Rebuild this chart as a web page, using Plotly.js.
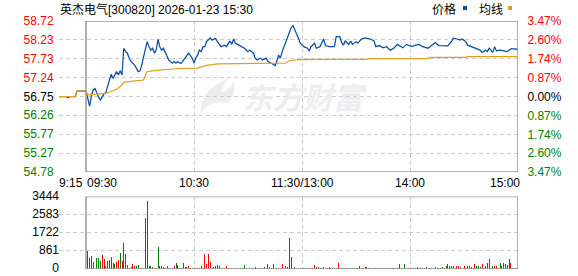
<!DOCTYPE html>
<html><head><meta charset="utf-8">
<script src="https://cdn.plot.ly/plotly-3.0.1.min.js"></script>
<style>html,body{margin:0;padding:0;background:#fff;overflow:hidden}#chart{width:578px;height:276px}</style>
</head><body><div id="chart"></div>
<script>
// ---------------- data ----------------
const stockName = '英杰电气';
const stockCode = '300820';
const stamp = '2026-01-23 15:30';
const prevClose = 56.75;
const priceTicks = [54.78, 55.27, 55.77, 56.26, 56.75, 57.24, 57.73, 58.23, 58.72];
const pctTicks = [-3.47, -2.60, -1.74, -0.87, 0.00, 0.87, 1.74, 2.60, 3.47];
const volTicks = [0, 861, 1722, 2583, 3444];
const volTickText = ['0', '861', '1722', '2583', '3444'];
const timeLabels = ['9:15', '09:30', '10:30', '11:30/13:00', '14:00', '15:00'];
const timeLabelMinutes = [-15, 0, 60, 120, 180, 240];   // minutes from 09:30 (13:00 joins 11:30)
const legendNames = ['价格', '均线'];
const watermark = '东方财富';

// minute-line price (minutes from 09:30, afternoon continues after 11:30)
const priceMinutes = [-15,-11,-10,-9,-6,-5,0,
 1,2,3,4,5,6,7,8,9,10,11,12,13,14,15,16,17,18,19,20,
 21,22,23,24,25,26,27,28,29,30,31,32,33,34,35,36,37,38,39,40,
 41,42,43,44,45,46,47,48,49,50,51,52,53,55,56,57,59,60,61,62,
 63,64,65,66,67,68,69,70,72,73,75,77,78,80,81,82,83,85,87,88,
 90,91,93,94,95,97,98,100,101,103,104,105,106,107,108,109,110,111,112,113,
 114,115,116,117,118,119,120,121,123,124,125,127,128,130,132,133,135,138,139,141,
 142,143,144,146,147,148,150,151,153,155,158,160,161,163,165,167,169,171,173,174,
 176,178,180,181,183,185,187,189,190,192,194,196,198,199,201,203,204,206,208,209,
 211,212,214,216,217,219,220,222,223,224,226,227,228,230,232,234,236,237,239,240];
const priceValues = [56.75,56.75,56.72,56.75,56.75,56.89,56.89,
 56.66,56.50,56.76,56.92,56.96,56.83,56.74,56.66,56.73,56.82,56.85,57.01,57.18,57.33,57.22,57.31,57.40,57.31,57.42,57.31,
 58.01,57.92,57.88,57.75,57.66,57.62,57.57,57.49,57.40,57.42,57.57,57.79,58.01,58.18,58.05,57.96,58.01,57.88,57.96,58.24,
 58.05,57.96,58.01,57.92,57.83,57.70,57.66,57.62,57.66,57.62,57.66,57.62,57.62,57.75,57.83,57.88,57.75,57.62,57.75,57.83,
 57.96,57.92,58.05,58.05,58.18,58.22,58.28,58.22,58.27,58.18,58.05,58.09,58.05,58.20,58.11,58.25,58.14,58.09,58.05,58.01,
 57.92,57.96,57.88,57.75,57.70,57.75,57.70,57.75,57.66,57.62,57.59,57.55,57.66,57.83,57.75,57.92,58.05,58.18,58.27,58.44,
 58.55,58.60,58.50,58.40,58.27,58.14,58.08,58.05,58.01,57.94,58.05,58.14,58.01,58.05,58.25,58.08,58.05,58.05,58.31,58.31,
 58.16,58.09,58.20,58.11,58.20,58.11,58.18,58.14,58.25,58.28,58.25,58.20,58.05,58.08,58.02,58.05,57.96,58.01,58.11,58.08,
 58.02,58.11,58.08,58.05,58.09,58.11,58.05,58.02,58.01,58.08,58.16,58.08,58.08,58.08,58.07,58.18,58.27,58.25,58.22,58.25,
 58.18,58.09,58.05,58.01,57.99,57.96,57.90,57.96,57.92,58.01,57.90,58.05,57.94,57.96,57.94,57.92,57.99,57.99,57.99,57.96];

// average price line
const avgMinutes = [-15,-6,-5,0,1,8,11,14,17,19,21,26,32,33,34,40,46,52,62,63,67,73,84,111,113,119,135,156,157,190,191,211,212,240];
const avgValues  = [56.75,56.75,56.89,56.89,56.79,56.82,56.83,56.88,56.94,57.01,57.12,57.15,57.18,57.31,57.40,57.44,57.46,57.48,57.49,57.51,57.56,57.60,57.61,57.62,57.69,57.71,57.72,57.72,57.74,57.74,57.77,57.77,57.79,57.79];

// volume: auction at 09:25, then one bar per minute 09:31 .. 15:00
const auctionMinute = -5;
const auctionVolume = 95;
const volumes = [
 842,509,603,333,365,509,509,365,650,460,160,365,412,555,300,222,333,444,777,365,
 1222,698,175,63,111,254,127,160,175,32,32,32,2412,3222,160,160,95,48,48,1031,
 160,160,95,48,127,48,48,48,127,300,206,48,48,300,95,111,127,48,48,48,
 32,48,48,127,48,730,254,730,317,63,111,127,190,127,48,48,48,127,48,79,
 48,48,48,48,48,48,48,190,48,48,48,48,48,111,48,48,48,48,79,48,
 222,111,48,254,48,48,48,48,238,48,127,95,1460,555,317,95,48,32,32,48,
 48,48,48,48,48,48,206,95,79,48,48,95,48,48,95,48,48,48,48,270,
 48,48,32,48,48,63,48,48,48,32,48,127,48,48,79,95,48,48,48,48,
 48,48,48,32,48,48,63,48,48,48,48,32,48,222,48,48,222,48,48,48,
 48,48,48,79,48,48,32,48,79,48,48,48,48,111,48,48,32,95,48,142,
 222,127,127,127,48,160,127,111,48,127,63,127,127,79,48,222,127,160,95,254,
 48,160,286,460,48,127,127,127,48,270,127,270,222,206,460,270,48,48,48,412];
const volDirs =
 'ggrgrgggrrrrrrggrrgr' +
 'rgggg' + 'rrggrrrrrrgg' + 'rrg' +
 'gggrgggg' + 'rgrrggrrrgggg' +
 'grrrrrrrrgrrgrggrrgr' +
 'grrgggggrrrrrrgrgrgg' +
 'rggrgrrrrgrgrgrgggrg' +
 'gggrrrrrgrrrggrgggrr' +
 'rgrggrggrgrrggrggrgg' +
 'rgrggrggrgrgggrggrrg' +
 'rrgrrggrgrrgrgrggrgr' +
 'rrrgrrrgrrgrgrrgggrg' +
 'rggggrrrggrgrrrrrggrg';

// ---------------- drawing ----------------
const RED = '#ff0000', GREEN = '#008000', INK = '#000000';
const FONT = 'Liberation Sans, Arial, sans-serif';
const CJK = 'Noto Sans CJK SC, sans-serif';
const tone = v => v > 0 ? RED : (v < 0 ? GREEN : INK);
const span = (txt, c) => '<span style="color:' + c + '">' + txt + '</span>';

const W = 578, H = 276, ML = 59, MR = 60, MT = 21, MB = 7;
const plotH = H - MT - MB;
const priceDom = [(H - MB - 172) / plotH, 1];
const volDom = [0, (H - MB - 196.5) / plotH];
const px2x = p => (p - ML) / (W - ML - MR);
const px2y = p => (H - MB - p) / plotH;

const priceLabels = priceTicks.map(p => span(p.toFixed(2), tone(Math.round((p - prevClose) * 100))));
const pctLabels = pctTicks.map(v => span(Math.abs(v).toFixed(2) + '%', tone(v)));
const pRange = [priceTicks[0], priceTicks[priceTicks.length - 1]];
const pctRange = pRange.map(p => (p / prevClose - 1) * 100);
const vRange = [volTicks[0], volTicks[volTicks.length - 1]];

const volX = [auctionMinute].concat(volumes.map((v, i) => i + 1));
const volY = [auctionVolume].concat(volumes);
const volC = ['r'].concat(volDirs.split('')).map(d => d === 'r' ? RED : GREEN);

const BLUE = '#0b4ea2', ORANGE = '#e0a020';
const traces = [
  {x: priceMinutes, y: priceValues, type: 'scatter', mode: 'lines', xaxis: 'x', yaxis: 'y',
   line: {color: BLUE, width: 1.25}, hoverinfo: 'skip'},
  {x: avgMinutes, y: avgValues, type: 'scatter', mode: 'lines', xaxis: 'x', yaxis: 'y',
   line: {color: ORANGE, width: 1.2}, hoverinfo: 'skip'},
  {x: [0], y: [0], type: 'scatter', mode: 'markers', xaxis: 'x', yaxis: 'y2',
   marker: {opacity: 0}, hoverinfo: 'skip'},
  {x: volX, y: volY, type: 'bar', xaxis: 'x2', yaxis: 'y3', width: 0.55,
   marker: {color: volC, line: {width: 0}}, hoverinfo: 'skip'},
  // volume axis labels as text placed left of the panel (not clipped)
  {x: volTicks.map(() => -15), y: volTicks, type: 'scatter', mode: 'text', xaxis: 'x2', yaxis: 'y3',
   text: volTickText, textposition: 'middle left', cliponaxis: false,
   textfont: {family: FONT, size: 12, color: INK}, hoverinfo: 'skip'}
];

const gridDash = '4px,3px', gridCol = '#cccccc';
const baseX = {range: [-15, 240], showticklabels: false, ticks: '', zeroline: false,
  tickmode: 'array', tickvals: [-15, 60, 120, 180], showgrid: true, gridcolor: gridCol,
  griddash: gridDash, gridwidth: 1, showline: false, fixedrange: true};
const tickFont = {family: FONT, size: 12, color: INK};

const annotations = [];
annotations.push({xref: 'paper', yref: 'paper', x: px2x(58), y: px2y(8.5), xanchor: 'left', yanchor: 'middle',
  showarrow: false,
  text: '<span style="font-family:Noto Sans CJK SC">' + stockName + '</span>' +
        '<span style="font-family:Liberation Sans">[' + stockCode + '] ' + stamp + '</span>',
  font: {family: FONT, size: 12, color: INK}});
annotations.push({xref: 'paper', yref: 'paper', x: px2x(430), y: px2y(8.5), xanchor: 'left', yanchor: 'middle',
  showarrow: false, text: legendNames[0], font: {family: CJK, size: 12, color: INK}});
annotations.push({xref: 'paper', yref: 'paper', x: px2x(477), y: px2y(8.5), xanchor: 'left', yanchor: 'middle',
  showarrow: false, text: legendNames[1], font: {family: CJK, size: 12, color: INK}});
annotations.push({xref: 'paper', yref: 'paper', x: px2x(305), y: px2y(96), xanchor: 'center', yanchor: 'middle',
  showarrow: false, text: watermark, font: {family: CJK, size: 30, color: '#ededf0', weight: 700, style: 'italic'}});
timeLabels.forEach((t, i) => {
  const m = timeLabelMinutes[i];
  annotations.push({xref: 'x', yref: 'paper', x: m, y: priceDom[0], yanchor: 'top', yshift: -2,
    xanchor: i === 0 || i === 1 ? 'left' : (i === timeLabels.length - 1 ? 'right' : 'center'),
    xshift: i === 0 ? -2 : (i === 1 ? -1 : (i === timeLabels.length - 1 ? 4 : 0)),
    showarrow: false, text: t, font: {family: FONT, size: 12, color: INK}});
});

const sq = (l, c) => ({type: 'rect', xref: 'paper', yref: 'paper', x0: px2x(l), x1: px2x(l + 4),
  y0: px2y(10), y1: px2y(6), fillcolor: c, line: {width: 0}});
const logo = 'M ' + px2x(229) + ' ' + px2y(78) +
  ' Q ' + px2x(199) + ' ' + px2y(90) + ' ' + px2x(201) + ' ' + px2y(113) +
  ' Q ' + px2x(212) + ' ' + px2y(99) + ' ' + px2x(227) + ' ' + px2y(103) +
  ' Q ' + px2x(237) + ' ' + px2y(95) + ' ' + px2x(234) + ' ' + px2y(81) +
  ' Q ' + px2x(230) + ' ' + px2y(89) + ' ' + px2x(221) + ' ' + px2y(93) +
  ' Q ' + px2x(223) + ' ' + px2y(84) + ' ' + px2x(229) + ' ' + px2y(78) + ' Z';

const shapes = [
  {type: 'path', xref: 'paper', yref: 'paper', path: logo, fillcolor: '#ededf0', line: {width: 0}, layer: 'below'},
  {type: 'rect', xref: 'x', yref: 'y', x0: 0, x1: 240, y0: pRange[0], y1: pRange[1],
   line: {color: '#999999', width: 1.5}, layer: 'above'},
  {type: 'rect', xref: 'x2', yref: 'y3', x0: 0, x1: 240, y0: vRange[0], y1: vRange[1],
   line: {color: '#999999', width: 1.5}, layer: 'above'},
  sq(463, BLUE), sq(508, ORANGE)
];

const layout = {
  width: W, height: H, margin: {l: ML, r: MR, t: MT, b: MB, pad: 0},
  paper_bgcolor: '#ffffff', plot_bgcolor: '#ffffff', showlegend: false,
  font: {family: FONT, size: 12, color: INK},
  xaxis: Object.assign({}, baseX, {anchor: 'y', domain: [0, 1]}),
  xaxis2: Object.assign({}, baseX, {anchor: 'y3', domain: [0, 1], matches: 'x'}),
  yaxis: {domain: priceDom, anchor: 'x', range: pRange, tickmode: 'array', tickvals: priceTicks,
    ticktext: priceLabels, tickfont: tickFont, ticks: 'outside', ticklen: 2, tickcolor: 'rgba(0,0,0,0)',
    showgrid: true, gridcolor: gridCol, griddash: gridDash, gridwidth: 1, zeroline: false, fixedrange: true},
  yaxis2: {overlaying: 'y', side: 'right', anchor: 'x', range: pctRange, tickmode: 'array', tickvals: pctTicks,
    ticktext: pctLabels, tickfont: tickFont, ticks: 'outside', ticklen: 6, tickcolor: 'rgba(0,0,0,0)',
    showgrid: false, zeroline: false, fixedrange: true},
  yaxis3: {domain: volDom, anchor: 'x2', range: vRange, tickmode: 'array',
    tickvals: volTicks, showticklabels: false, ticks: '', showgrid: true, gridcolor: gridCol,
    griddash: gridDash, gridwidth: 1, zeroline: false, fixedrange: true},
  bargap: 0, annotations: annotations, shapes: shapes
};

Plotly.newPlot('chart', traces, layout, {staticPlot: true, displayModeBar: false});
</script></body></html>
